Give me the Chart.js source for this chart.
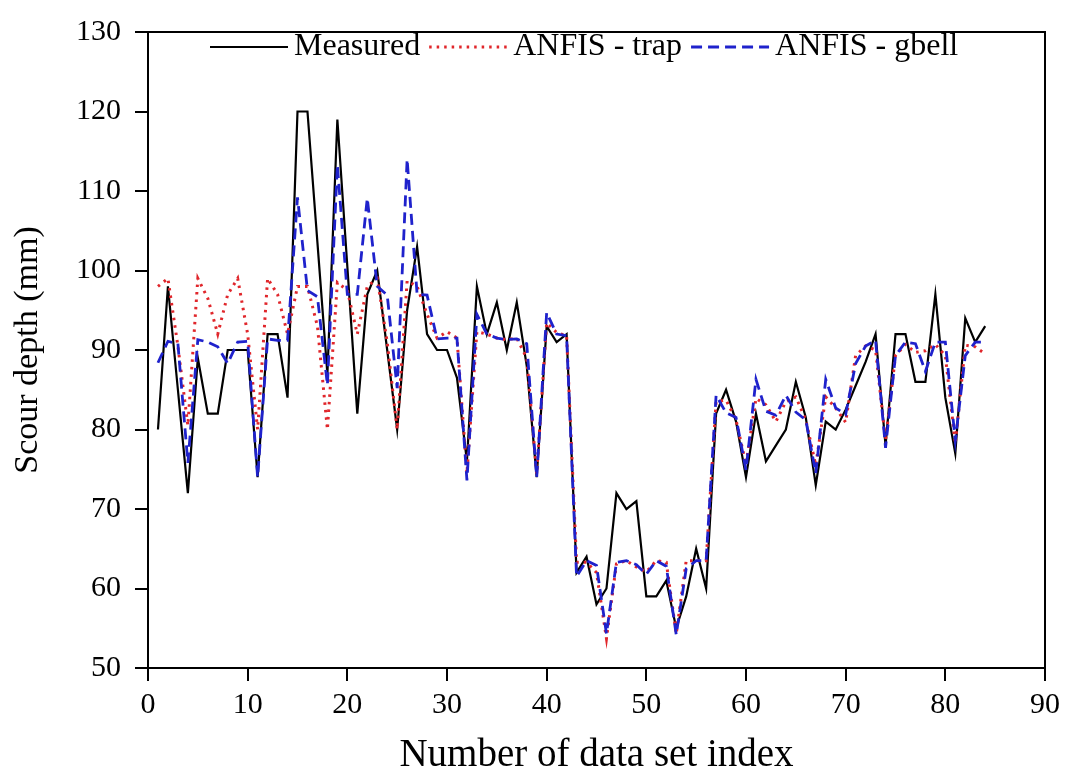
<!DOCTYPE html>
<html>
<head>
<meta charset="utf-8">
<script src="https://cdn.jsdelivr.net/npm/chart.js@4.4.1/dist/chart.umd.min.js"></script>
<style>
  html, body { margin: 0; padding: 0; background: #fff; }
  #wrap { width: 1066px; height: 775px; }
</style>
</head>
<body>
<div id="wrap"><canvas id="myChart"></canvas></div>
<script>
// scour depth per data set, measured vs. the two ANFIS models
const measured = [
  80, 98, 85, 72, 89, 82, 82, 90, 90, 90,
  74, 92, 92, 84, 120, 120, 103.5, 87, 119, 100.5,
  82, 97, 100, 90, 80, 95, 103, 92, 90, 90,
  86.5, 76, 98, 92, 96, 90, 96, 88, 74, 93,
  91, 92, 62, 64, 58, 60, 72, 70, 71, 59,
  59, 61, 55, 59, 65, 60, 82, 85, 81, 74,
  82, 76, 78, 80, 86, 81.5, 73, 81, 80, 82.5,
  85.5, 88.5, 92, 78, 92, 92, 86, 86, 97, 84,
  77, 94, 91, 93
];
const anfisTrap = [
  98, 99, 90.5, 80.5, 99, 96.5, 92, 97, 99, 92,
  80, 99, 97, 92, 98, 98, 93, 80, 98.5, 97.5,
  92, 98, 99, 91, 80, 98.7, 98, 94.5, 91.5, 92.3,
  91.5, 74.5, 92.3, 92, 91.5, 91.3, 91.5, 89, 74.4, 93.4,
  92.2, 91.8, 63.3, 63.3, 62, 53.7, 63.1, 63.5, 62.7, 62.1,
  63.5, 63.3, 54.3, 63.5, 63.5, 63.5, 83.5, 83.7, 81.2, 75.6,
  83.9, 83.1, 81, 83.5, 84.1, 81.2, 75.5, 84.1, 82.7, 80.9,
  89.3, 90.5, 90, 78.6, 89.3, 90.7, 89.7, 89.9, 90.7, 89.3,
  78.2, 90.6, 90.4, 89.5
];
const anfisGbell = [
  88.4, 91.1, 90.8, 75.8, 91.3, 91, 90.4, 88.3, 91, 91.1,
  74, 91.4, 91.2, 91.2, 109.2, 97.5, 96.7, 85.6, 113.3, 97,
  97, 109.1, 98, 96.9, 85.2, 114, 97, 96.9, 91.4, 91.5,
  91.5, 73.6, 94.5, 92, 91.5, 91.3, 91.4, 90.8, 74, 94.7,
  92, 91.8, 61.5, 63.5, 62.9, 54.3, 63.3, 63.5, 63, 61.8,
  63.5, 62.8, 54.2, 62.5, 63.5, 63.5, 84.3, 82.1, 81.5, 74.9,
  86.3, 82.3, 81.8, 84.3, 82.2, 81.2, 74.5, 86.3, 82.7, 81.9,
  88.3, 90.5, 91.2, 77.7, 89.3, 91, 90.8, 87.3, 91, 91,
  78.6, 89.3, 91, 91
];
const dataIndex = measured.map((_, i) => i + 1);

const serif = '"Liberation Serif", "Times New Roman", serif';

const toPoints = vals => vals.map((v, i) => ({ x: dataIndex[i], y: v }));

// box around the plot plus a legend row inside the top edge
const frameAndLegend = {
  id: 'frameAndLegend',
  afterDraw(chart) {
    const { ctx, chartArea: a } = chart;
    ctx.save();
    ctx.strokeStyle = '#000';
    ctx.lineWidth = 2;
    ctx.strokeRect(a.left, a.top, a.right - a.left, a.bottom - a.top);

    ctx.font = '32px ' + serif;
    ctx.textBaseline = 'middle';
    ctx.fillStyle = '#000';
    let x = 210;
    const y = 47;
    chart.data.datasets.forEach(ds => {
      ctx.beginPath();
      ctx.strokeStyle = ds.borderColor;
      ctx.lineWidth = ds.borderWidth;
      ctx.setLineDash(ds.borderDash || []);
      ctx.moveTo(x, y);
      ctx.lineTo(x + 78, y);
      ctx.stroke();
      ctx.setLineDash([]);
      x += 84;
      ctx.fillText(ds.label, x, y);
      x += ctx.measureText(ds.label).width + 9;
    });
    ctx.restore();
  }
};

new Chart(document.getElementById('myChart'), {
  type: 'line',
  data: {
    datasets: [
      {
        label: 'Measured',
        data: toPoints(measured),
        borderColor: '#000000',
        borderWidth: 2.2,
        order: 3
      },
      {
        label: 'ANFIS - trap',
        data: toPoints(anfisTrap),
        borderColor: '#e0262b',
        borderWidth: 3,
        borderDash: [2.5, 5],
        order: 2
      },
      {
        label: 'ANFIS - gbell',
        data: toPoints(anfisGbell),
        borderColor: '#1f22cc',
        borderWidth: 2.8,
        borderDash: [11, 6],
        order: 1
      }
    ]
  },
  options: {
    responsive: true,
    maintainAspectRatio: false,
    animation: false,
    elements: {
      point: { radius: 0, hoverRadius: 0 },
      line: { tension: 0, fill: false }
    },
    layout: {
      padding: { left: 0, right: 20, top: 20, bottom: 0 }
    },
    plugins: {
      legend: { display: false },
      tooltip: { enabled: false }
    },
    scales: {
      x: {
        type: 'linear',
        min: 0,
        max: 90,
        afterFit: s => { s.height = 107; },
        ticks: {
          stepSize: 10,
          color: '#000',
          padding: 6,
          maxRotation: 0,
          font: { family: serif, size: 30 }
        },
        grid: {
          drawOnChartArea: false,
          tickLength: 13,
          color: '#000',
          lineWidth: 2
        },
        border: { color: '#000', width: 2 },
        title: {
          display: true,
          text: 'Number of data set index',
          color: '#000',
          padding: { top: 0, bottom: 0 },
          font: { family: serif, size: 39, lineHeight: 1 }
        }
      },
      y: {
        min: 50,
        max: 130,
        afterFit: s => { s.width = 148; },
        ticks: {
          stepSize: 10,
          color: '#000',
          padding: 14,
          font: { family: serif, size: 30 }
        },
        grid: {
          drawOnChartArea: false,
          tickLength: 13,
          color: '#000',
          lineWidth: 2
        },
        border: { color: '#000', width: 2 },
        title: {
          display: true,
          text: 'Scour depth (mm)',
          color: '#000',
          padding: { top: 11, bottom: 0 },
          font: { family: serif, size: 34, lineHeight: 1 }
        }
      }
    }
  },
  plugins: [frameAndLegend]
});
</script>
</body>
</html>
